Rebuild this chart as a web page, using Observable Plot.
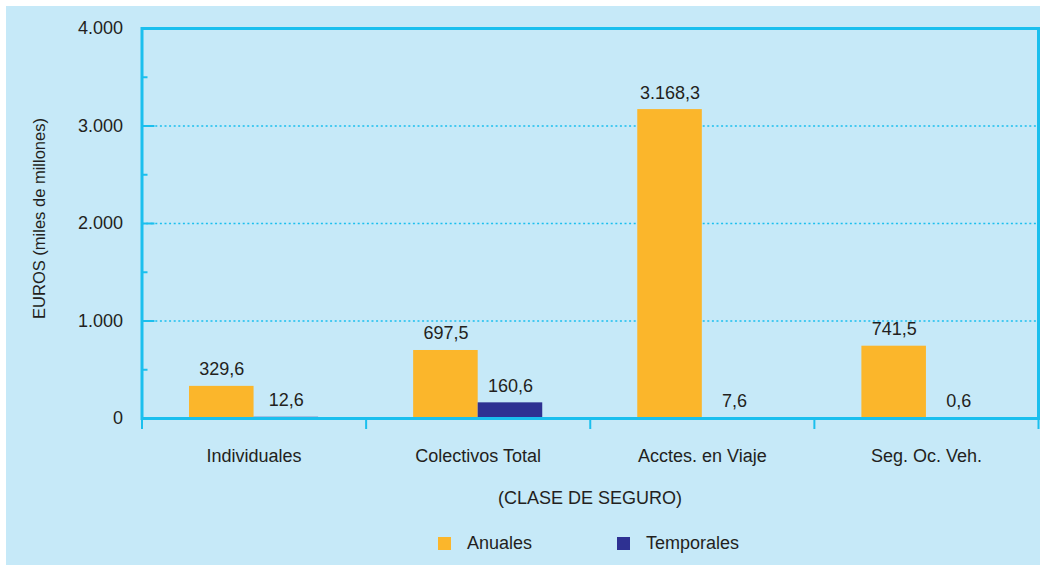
<!DOCTYPE html>
<html><head><meta charset="utf-8">
<script src="https://cdn.jsdelivr.net/npm/d3@7"></script>
<script src="https://cdn.jsdelivr.net/npm/@observablehq/plot@0.6"></script>
<style>
body{margin:0;background:#fff;font-family:"Liberation Sans",Arial,sans-serif;color:#231f20}
#wrap{position:relative;width:1046px;height:567px;overflow:hidden}
#bg{position:absolute;left:6px;top:6px;width:1034px;height:559px;background:#c6e9f8}
#chart{position:absolute;left:0;top:0}
.cap{position:absolute;font-size:18px;line-height:18px;white-space:nowrap}
#legend{position:absolute;left:438px;top:534px;display:flex;align-items:center;font-size:18px;line-height:18px}
#legend .item{display:flex;align-items:center;margin-right:85px}
#legend .sw{width:13px;height:13px;margin-right:16px;margin-top:1px}
</style></head><body>
<div id="wrap"><div id="bg"></div><div id="chart"></div>
<div class="cap" style="left:0;width:1180px;text-align:center;top:489px">(CLASE DE SEGURO)</div>
<div id="legend"></div>
</div>
<script>
const categories = ["Individuales", "Colectivos Total", "Acctes. en Viaje", "Seg. Oc. Veh."];
const series = ["Anuales", "Temporales"];
const anuales = [329.6, 697.5, 3168.3, 741.5];
const temporales = [12.6, 160.6, 7.6, 0.6];
const yTicks = [0, 1000, 2000, 3000, 4000];
const yMinorTicks = [500, 1500, 2500, 3500];
const gridTicks = [1000, 2000, 3000];
const colors = ["#fbb62b", "#2e3192"];
const yLabel = "EUROS (miles de millones)";

const es = d3.formatLocale({decimal: ",", thousands: ".", grouping: [3], currency: ["", "€"]});
const fmtVal = es.format(",.1f");
const fmtTick = es.format(",.0f");

const rows = [];
categories.forEach((c, i) => {
  rows.push({cat: c, i, series: series[0], value: anuales[i]});
  rows.push({cat: c, i, series: series[1], value: temporales[i]});
});

const barW = 0.288;
const x1 = d => d.i + 0.5 - (d.series === series[0] ? barW : 0);
const x2 = d => d.i + 0.5 + (d.series === series[0] ? 0 : barW);
const xc = d => (x1(d) + x2(d)) / 2;

const cyan = "#1bbfee";
const plot = Plot.plot({
  width: 1046, height: 470,
  marginLeft: 141.5, marginRight: 8, marginTop: 28, marginBottom: 52,
  style: {fontFamily: "Liberation Sans, Arial, sans-serif", fontSize: "18px", color: "#231f20", background: "transparent", overflow: "visible"},
  x: {domain: [0, categories.length]},
  y: {domain: [0, 4000]},
  color: {domain: series, range: colors},
  marks: [
    Plot.ruleY(gridTicks, {stroke: cyan, strokeWidth: 1.3, strokeDasharray: "2,2.6"}),
    Plot.rectY(rows, {x1, x2, y1: 0, y2: "value", fill: "series"}),
    Plot.text(rows, {x: xc, y: "value", text: d => fmtVal(d.value), dy: -11, lineAnchor: "bottom", fontSize: 18, fill: "#231f20"}),
    Plot.axisY(yTicks, {tickSize: 0, tickPadding: 19, tickFormat: fmtTick, fontSize: 18, label: null}),
    Plot.axisY(yTicks, {tickSize: -13, tickFormat: () => "", stroke: cyan, strokeWidth: 2, label: null}),
    Plot.axisY(yMinorTicks, {tickSize: -6, tickFormat: () => "", stroke: cyan, strokeWidth: 2, label: null}),
    Plot.axisX(d3.range(categories.length + 1), {tickSize: 11, tickFormat: () => "", stroke: cyan, strokeWidth: 2, label: null}),
    Plot.axisX(categories.map((c, i) => i + 0.5), {tickSize: 0, tickPadding: 31, tickFormat: v => categories[Math.floor(v)], fontSize: 18, label: null}),
    Plot.frame({stroke: cyan, strokeWidth: 3}),
    Plot.text([yLabel], {frameAnchor: "left", textAnchor: "middle", lineAnchor: "middle", rotate: -90, dx: -102.5, dy: -5, fontSize: 16.5, fill: "#231f20"})
  ]
});
document.getElementById("chart").appendChild(plot);

const legend = document.getElementById("legend");
series.forEach((s, k) => {
  const item = document.createElement("div");
  item.className = "item";
  const sw = document.createElement("div");
  sw.className = "sw";
  sw.style.background = colors[k];
  const t = document.createElement("span");
  t.textContent = s;
  item.appendChild(sw); item.appendChild(t);
  legend.appendChild(item);
});
</script>
</body></html>
